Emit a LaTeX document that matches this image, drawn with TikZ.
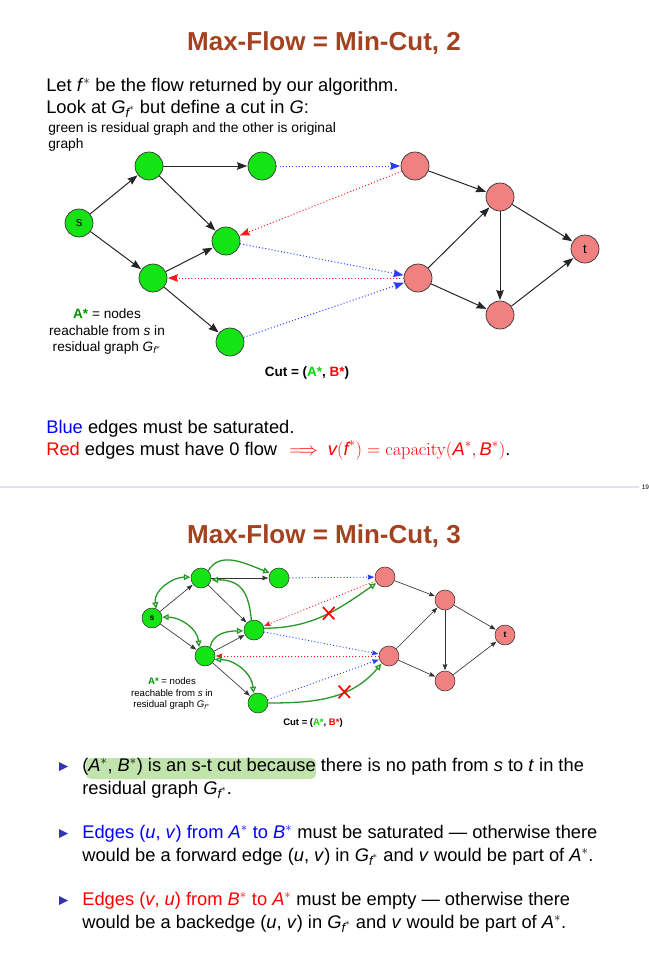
\RequirePackage{fix-cm}
\documentclass[tikz,border=0pt]{standalone}
\usepackage{amsmath}
\usepackage[no-math]{fontspec}
\setmainfont{Liberation Sans}
\usepackage{tikz}
\usetikzlibrary{arrows.meta,automata,shapes.misc}
\definecolor{titlebrown}{RGB}{163,66,32}
\definecolor{nodegreen}{RGB}{20,228,20}
\definecolor{nodered}{RGB}{241,128,128}
\definecolor{resgreen}{RGB}{40,150,40}
\definecolor{darkA}{RGB}{0,150,0}
\definecolor{brightA}{RGB}{0,215,0}
\definecolor{bulletblue}{RGB}{50,50,190}
\definecolor{hilite}{RGB}{192,228,172}
\definecolor{rulegray}{RGB}{224,228,234}
\definecolor{cutblue}{RGB}{40,60,255}
\newcommand{\svar}[1]{\textit{#1}$^{*}$}
\newcommand{\Gres}{\textit{G}$_{\textit{f}^{*}}$}
\newcommand{\fsz}[1]{\fontsize{#1}{#1}\selectfont}

\begin{document}
\begin{tikzpicture}[x=1pt,y=-1pt,>={Stealth[length=10pt,width=7.5pt,inset=1pt]},
                    shorten >=0.5pt,semithick]
  \tikzstyle{every state}=[draw=black!80,line width=0.7pt,inner sep=0pt,
                           minimum size=28pt,font=\fsz{13}]
  \tikzstyle{inA}=[state,fill=nodegreen]
  \tikzstyle{inB}=[state,fill=nodered]
  \tikzstyle{sm}=[minimum size=20pt,line width=0.55pt,font=\fsz{8.5}\bfseries]
  \tikzstyle{flow}=[->,black!85,line width=1pt]
  \tikzstyle{flowsm}=[-{Stealth[length=6pt,width=4.5pt,inset=0.7pt]},black!80,line width=0.65pt]
  \tikzstyle{dots}=[dash pattern=on 1pt off 2.2pt,line width=1pt]
  \tikzstyle{satur}=[->,dots,cutblue]
  \tikzstyle{nullflow}=[->,dots,red!90]
  \tikzstyle{tipsm}=[-{Stealth[length=6.5pt,width=5pt,inset=0.7pt]},line width=0.9pt]
  \tikzstyle{res}=[-{Triangle[open,length=6.5pt,width=6pt]},resgreen,line width=1.3pt]
  \tikzstyle{resboth}=[{Triangle[open,length=6.5pt,width=6pt]}-{Triangle[open,length=6.5pt,width=6pt]},
                       resgreen,line width=1.3pt]
  \tikzstyle{cutx}=[cross out,draw=red,line width=1.7pt,minimum width=10pt,
                    minimum height=11pt,inner sep=0pt,anchor=center]
  \tikzstyle{txt}=[anchor=base west,inner sep=0pt,font=\fsz{18.3}]
  \tikzstyle{note}=[anchor=base,inner sep=0pt]
  \tikzstyle{slidetitle}=[anchor=base,inner sep=0pt,text=titlebrown,font=\fsz{26}\bfseries]

  \useasboundingbox (0,0) rectangle (648,958);

  \node[slidetitle] (title1) at (324,51) {Max-Flow = Min-Cut, 2};
  \node[txt] (intro1) at (46,91)  {Let \svar{f} be the flow returned by our algorithm.};
  \node[txt] (intro2) at (46,113) {Look at \Gres{} but define a cut in \textit{G}:};
  \node[txt,font=\fsz{13.8}] (hint1) at (48,132) {green is residual graph and the other is original};
  \node[txt,font=\fsz{13.8}] (hint2) at (48,148) {graph};

  \node[inA] (a1) at (149,166) {};
  \node[inA] (a2) at (262,166) {};
  \node[inA] (s)  at (79,223)  {s};
  \node[inA] (a3) at (226,241) {};
  \node[inA] (a4) at (153,278) {};
  \node[inA] (a5) at (230,342) {};
  \node[inB] (b1) at (415,166) {};
  \node[inB] (b2) at (500,197) {};
  \node[inB] (t)  at (585,249) {t};
  \node[inB] (b3) at (418,278) {};
  \node[inB] (b4) at (500,315) {};
  \draw[flow]
        (s)  edge (a1)  (s)  edge (a4)
        (a1) edge (a2)  (a1) edge (a3)
        (a4) edge (a3)  (a4) edge (a5)
        (b1) edge (b2)  (b3) edge (b2)
        (b2) edge (b4)  (b2) edge (t)
        (b3) edge (b4)  (b4) edge (t);
  \draw[satur]    (a2) edge (b1)  (a3) edge (b3)  (a5) edge (b3);
  \draw[nullflow] (b1) edge (a3)  (b3) edge (a4);

  \node[note,font=\fsz{13.6}] (Anodes) at (107,318) {\textbf{\color{darkA}A*} = nodes};
  \node[note,font=\fsz{13.6}] (Areach) at (107,335) {reachable from \textit{s} in};
  \node[note,font=\fsz{13.6}] (Aresid) at (107,351) {residual graph \Gres};
  \node[note,font=\fsz{13.5}\bfseries] (cut) at (307,376) {Cut = ({\color{brightA}A*}, {\color{red}B*})};

  \node[txt] (blueline) at (46,433) {{\color{blue}Blue} edges must be saturated.};
  \node[txt] (redline)  at (46,455) {{\color{red}Red} edges must have 0 flow\hspace{2pt}
    {\color{red}$\implies \textit{v}(\textit{f}^{*}) = \mathrm{capacity}(\textit{A}^{*},\textit{B}^{*})$}.};

  \draw[rulegray,line width=1.2pt] (0,487) -- (639,487);
  \node[anchor=base west,inner sep=0pt,font=\fsz{6.5}] (pageno) at (641.5,489) {19};

  \node[slidetitle] (title2) at (324,543) {Max-Flow = Min-Cut, 3};

  \node[inA,sm] (S)  at (152,618) {s};
  \node[inA,sm] (A1) at (201,578) {};
  \node[inA,sm] (A2) at (279,578) {};
  \node[inA,sm] (A3) at (254,630) {};
  \node[inA,sm] (A4) at (205,656) {};
  \node[inA,sm] (A5) at (258,703) {};
  \node[inB,sm] (B1) at (385,577) {};
  \node[inB,sm] (B2) at (445,600) {};
  \node[inB,sm] (T)  at (505,635) {t};
  \node[inB,sm] (B3) at (389,656) {};
  \node[inB,sm] (B4) at (445,681) {};
  \draw[flowsm]
        (S)  edge (A1)  (S)  edge (A4)
        (A1) edge (A2)  (A1) edge (A3)
        (A4) edge (A3)  (A4) edge (A5)
        (B1) edge (B2)  (B3) edge (B2)
        (B2) edge (B4)  (B2) edge (T)
        (B3) edge (B4)  (B4) edge (T);
  \draw[satur,tipsm]    (A2) edge (B1)  (A3) edge (B3)  (A5) edge (B3);
  \draw[nullflow,tipsm] (B1) edge (A3)  (B3) edge (A4);

  \draw[resboth] (S.65)  to[out=100,in=180] (A1.175);
  \draw[resboth] (S.5)   to[out=0,in=95] (A4.125);
  \draw[res]     (A1.45) to[out=60,in=160] (A2.150);
  \draw[res]     (A3.105) to[out=95,in=0,looseness=1.3] (A1.-10);
  \draw[res]     (A4.60) to[out=80,in=180] (A3.185);
  \draw[resboth] (A4.-20) to[out=0,in=95] (A5.115);
  \draw[res]     (A3.10) to[out=0,in=215] node[cutx,pos=0.55] (x1) {} (B1.215);
  \draw[res]     (A5.0)  to[out=0,in=230] node[cutx,pos=0.62] (x2) {} (B3.225);

  \node[note,font=\fsz{9.6}] (Bnodes) at (172,684) {\textbf{\color{darkA}A*} = nodes};
  \node[note,font=\fsz{9.6}] (Breach) at (172,696) {reachable from \textit{s} in};
  \node[note,font=\fsz{9.6}] (Bresid) at (172,707.5) {residual graph \Gres};
  \node[note,font=\fsz{9.5}\bfseries] (Bcut) at (313,725) {Cut = ({\color{brightA}A*}, {\color{red}B*})};

  \fill[hilite,rounded corners=5pt] (86,758) rectangle (316,779);
  \fill[bulletblue] (59,762) -- (68,766.5) -- (59,771) -- cycle;
  \fill[bulletblue] (59,829) -- (68,833.5) -- (59,838) -- cycle;
  \fill[bulletblue] (59,896) -- (68,900.5) -- (59,905) -- cycle;
  \node[txt] (cut1a) at (82,771) {(\svar{A}, \svar{B}) is an s-t cut because there is no path from \textit{s} to \textit{t} in the};
  \node[txt] (cut1b) at (82,794) {residual graph \Gres.};
  \node[txt] (cut2a) at (82,838) {{\color{blue}Edges (\textit{u}, \textit{v}) from \svar{A} to \svar{B}} must be saturated --- otherwise there};
  \node[txt] (cut2b) at (82,861) {would be a forward edge (\textit{u}, \textit{v}) in \Gres{} and \textit{v} would be part of \svar{A}.};
  \node[txt] (cut3a) at (82,905) {{\color{red}Edges (\textit{v}, \textit{u}) from \svar{B} to \svar{A}} must be empty --- otherwise there};
  \node[txt] (cut3b) at (82,928) {would be a backedge (\textit{u}, \textit{v}) in \Gres{} and \textit{v} would be part of \svar{A}.};
\end{tikzpicture}
\end{document}
